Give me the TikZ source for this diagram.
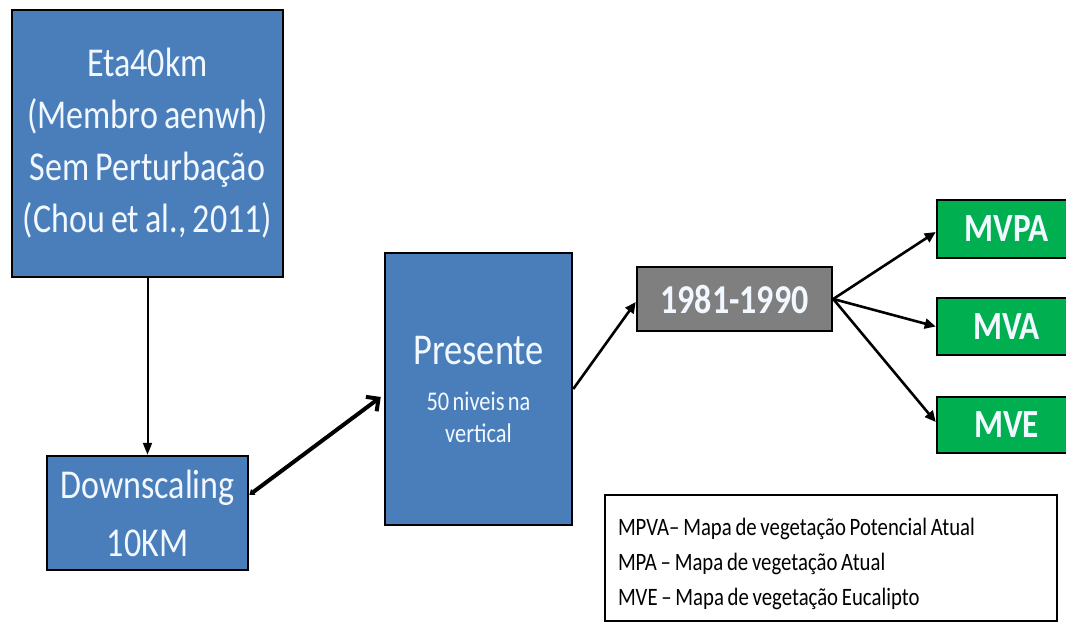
\documentclass[tikz,border=0pt]{standalone}
\usepackage{fontspec}
\setmainfont[FakeStretch=0.83,WordSpace={0.8,0,0}]{Carlito}
\usetikzlibrary{arrows.meta}
\definecolor{boxblue}{HTML}{4A7EBB}
\definecolor{boxgreen}{HTML}{00B050}
\definecolor{boxgray}{HTML}{7F7F7F}
\definecolor{boxtext}{HTML}{F2F8FF}
\begin{document}
\begin{tikzpicture}[x=1pt,y=1pt,
  box/.style={draw=black,line width=2.5pt,inner sep=0pt,text=boxtext,align=center},
  bluebox/.style={box,fill=boxblue},
  graybox/.style={box,fill=boxgray,font=\fontsize{41}{50}\selectfont\bfseries},
  greenbox/.style={box,fill=boxgreen,minimum width=139pt,font=\fontsize{40}{48}\selectfont\bfseries},
  thinarrow/.style={line width=2pt,-{Triangle[length=12pt,width=9pt]}},
  thickarrow/.style={line width=4pt,{Triangle[length=5pt,width=7pt]}-{Straight Barb[length=9pt,width=18pt,line width=4pt]}},
  medarrow/.style={line width=2.6pt,-{Triangle[length=11pt,width=10pt]}}
]
\clip (0,0) rectangle (1066,-626);

% model and downscaling boxes
\node[bluebox,minimum width=271pt,minimum height=267pt,
      font=\fontsize{41}{52}\selectfont] (eta) at (147.5,-143.5)
  {Eta40km\\(Membro aenwh)\\Sem Perturbação\\(Chou et al., 2011)};
\node[bluebox,minimum width=201pt,minimum height=114pt,
      font=\fontsize{41}{58}\selectfont] (dn) at (147.5,-513)
  {Downscaling\\10KM};
\node[bluebox,minimum width=187pt,minimum height=272pt,text width=180pt] (pr) at (478.5,-389)
  {{\fontsize{44}{53}\selectfont Presente\par}\vspace{14pt}%
   {\fontsize{27}{32}\selectfont 50 niveis na\\vertical\par}};

% period and vegetation maps
\node[graybox,minimum width=195pt,minimum height=64pt] (yr) at (734.5,-299) {1981-1990};
\node[greenbox,minimum height=58pt] (g1) at (1006.5,-229) {MVPA};
\node[greenbox,minimum height=57pt] (g2) at (1006.5,-326.5) {MVA};
\node[greenbox,minimum height=56pt] (g3) at (1006.5,-425) {MVE};

% legend (the strut lowers the text block a little inside the frame)
\node[draw=black,line width=2pt,minimum width=452pt,minimum height=126pt,
      text width=426pt,inner xsep=13pt,inner ysep=0pt,align=flush left,
      font=\fontsize{25}{35}\selectfont] (leg) at (831,-558)
  {\rule{0pt}{30pt}MPVA– Mapa de vegetação Potencial Atual\\
   MPA – Mapa de vegetação Atual\\
   MVE – Mapa de vegetação Eucalipto};

% connectors
\draw[thinarrow] (eta.south) -- (dn.north);
\draw[thickarrow] ([yshift=18pt]dn.east) -- ([yshift=-8pt,xshift=-3pt]pr.west);
\draw[medarrow] (pr.east) -- ([yshift=-3pt]yr.west);
\draw[medarrow] (yr.east) -- ([yshift=-3pt]g1.west);
\draw[medarrow] (yr.east) -- (g2.west);
\draw[medarrow] (yr.east) -- ([yshift=3pt]g3.west);
\end{tikzpicture}
\end{document}
